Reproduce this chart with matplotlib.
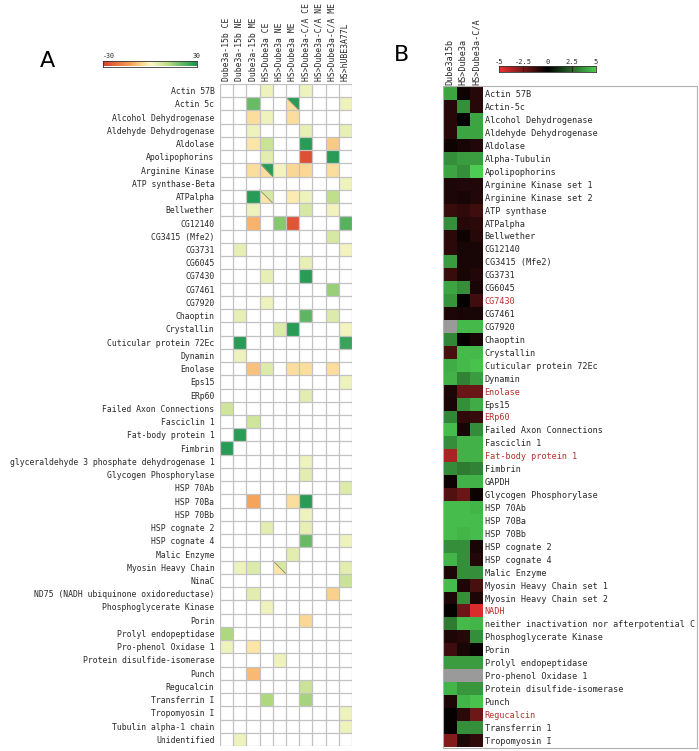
import numpy as np
import matplotlib
matplotlib.use('Agg')
import matplotlib.pyplot as plt
from matplotlib.colors import LinearSegmentedColormap
from matplotlib.patches import Polygon, Rectangle

_ = np.nan

# ---------------- Panel A data ----------------
a_columns = ["Dube3a-15b CE", "Dube3a-15b NE", "Dube3a-15b ME",
             "HS>Dube3a CE", "HS>Dube3a NE", "HS>Dube3a ME",
             "HS>Dube3a-C/A CE", "HS>Dube3a-C/A NE", "HS>Dube3a-C/A ME",
             "HS>hUBE3A77L"]
a_rows = ["Actin 57B", "Actin 5c", "Alcohol Dehydrogenase", "Aldehyde Dehydrogenase",
          "Aldolase", "Apolipophorins", "Arginine Kinase", "ATP synthase-Beta",
          "ATPalpha", "Bellwether", "CG12140", "CG3415 (Mfe2)", "CG3731", "CG6045",
          "CG7430", "CG7461", "CG7920", "Chaoptin", "Crystallin",
          "Cuticular protein 72Ec", "Dynamin", "Enolase", "Eps15", "ERp60",
          "Failed Axon Connections", "Fasciclin 1", "Fat-body protein 1", "Fimbrin",
          "glyceraldehyde 3 phosphate dehydrogenase 1", "Glycogen Phosphorylase",
          "HSP 70Ab", "HSP 70Ba", "HSP 70Bb", "HSP cognate 2", "HSP cognate 4",
          "Malic Enzyme", "Myosin Heavy Chain", "NinaC",
          "ND75 (NADH ubiquinone oxidoreductase)", "Phosphoglycerate Kinase", "Porin",
          "Prolyl endopeptidase", "Pro-phenol Oxidase 1", "Protein disulfide-isomerase",
          "Punch", "Regucalcin", "Transferrin I", "Tropomyosin I",
          "Tubulin alpha-1 chain", "Unidentified"]
a_values = [
    [_, _, _, 3, _, _, 3, _, _, _],
    [_, _, 20, _, _, _, _, _, _, 3],
    [_, _, -4, 3, _, -4, _, _, _, _],
    [_, _, 3, _, _, _, 4, _, _, 4],
    [_, _, -3, 9, _, _, 28, _, -7, _],
    [_, _, _, 5, _, _, -27, _, 28, _],
    [_, _, -4, _, 2, -5, -5, _, -4, _],
    [_, _, _, _, _, _, _, _, _, 3],
    [_, _, 28, _, _, -2, 3, _, 11, _],
    [_, _, 3, _, _, _, 7, _, 2, _],
    [_, _, -10, _, 17, -26, _, _, _, 22],
    [_, _, _, _, _, _, _, _, 7, _],
    [_, 4, _, _, _, _, _, _, _, 2],
    [_, _, _, _, _, _, 4, _, _, _],
    [_, _, _, 4, _, _, 28, _, _, _],
    [_, _, _, _, _, _, _, _, 15, _],
    [_, _, _, 3, _, _, _, _, _, _],
    [_, 4, _, _, _, _, 21, _, 6, _],
    [_, _, _, _, 6, 28, _, _, _, 2],
    [_, 28, _, _, _, _, _, _, _, 26],
    [_, 3, _, _, _, _, _, _, _, _],
    [_, _, -8, 6, _, -4, -4, _, -4, _],
    [_, _, _, _, _, _, _, _, _, 3],
    [_, _, _, _, _, _, 5, _, _, _],
    [8, _, _, _, _, _, _, _, _, _],
    [_, _, 8, _, _, _, _, _, _, _],
    [_, 28, _, _, _, _, _, _, _, _],
    [28, _, _, _, _, _, _, _, _, _],
    [_, _, _, _, _, _, 3, _, _, _],
    [_, _, _, _, _, _, 5, _, _, _],
    [_, _, _, _, _, _, _, _, _, 6],
    [_, _, -12, _, _, -4, 28, _, _, _],
    [_, _, _, _, _, _, 3, _, _, _],
    [_, _, _, 5, _, _, 4, _, _, _],
    [_, _, _, _, _, _, 20, _, _, 3],
    [_, _, _, _, _, 5, _, _, _, _],
    [_, 3, 6, _, _, _, _, _, _, 5],
    [_, _, _, _, _, _, _, _, _, 9],
    [_, _, 5, _, _, _, _, _, -6, _],
    [_, _, _, 3, _, _, _, _, _, _],
    [_, _, _, _, _, _, -5, _, _, _],
    [13, _, _, _, _, _, _, _, _, _],
    [3, _, -3, _, _, _, _, _, _, _],
    [_, _, _, _, 3, _, _, _, _, _],
    [_, _, -9, _, _, _, _, _, _, _],
    [_, _, _, _, _, _, 9, _, _, _],
    [_, _, _, 13, _, _, 14, _, _, _],
    [_, _, _, _, _, _, _, _, _, 3],
    [_, _, _, _, _, _, _, _, _, 3],
    [_, 3, _, _, _, _, _, _, _, _],
]
# cells split diagonally: lower-left and upper-right values
a_split_rows = ["Actin 5c", "Arginine Kinase", "ATPalpha", "Myosin Heavy Chain"]
a_split_cols = ["HS>Dube3a ME", "HS>Dube3a CE", "HS>Dube3a CE", "HS>Dube3a NE"]
a_split_lower = [-4, -4, -3, -3]
a_split_upper = [28, 28, 7, 7]
a_cbar_ticks = [-30, 30]

# ---------------- Panel B data ----------------
b_columns = ["Dube3a15b", "HS>Dube3a", "HS>Dube3a-C/A"]
b_rows = ["Actin 57B", "Actin-5c", "Alcohol Dehydrogenase", "Aldehyde Dehydrogenase",
          "Aldolase", "Alpha-Tubulin", "Apolipophorins", "Arginine Kinase set 1",
          "Arginine Kinase set 2", "ATP synthase", "ATPalpha", "Bellwether", "CG12140",
          "CG3415 (Mfe2)", "CG3731", "CG6045", "CG7430", "CG7461", "CG7920", "Chaoptin",
          "Crystallin", "Cuticular protein 72Ec", "Dynamin", "Enolase", "Eps15", "ERp60",
          "Failed Axon Connections", "Fasciclin 1", "Fat-body protein 1", "Fimbrin",
          "GAPDH", "Glycogen Phosphorylase", "HSP 70Ab", "HSP 70Ba", "HSP 70Bb",
          "HSP cognate 2", "HSP cognate 4", "Malic Enzyme", "Myosin Heavy Chain set 1",
          "Myosin Heavy Chain set 2", "NADH", "neither inactivation nor afterpotential C",
          "Phosphoglycerate Kinase", "Porin", "Prolyl endopeptidase",
          "Pro-phenol Oxidase 1", "Protein disulfide-isomerase", "Punch", "Regucalcin",
          "Transferrin 1", "Tropomyosin I"]
b_values = [
    [4.0, -0.3, -0.8], [-0.8, 3.5, -0.8], [-0.8, 0.0, 4.0], [-0.8, 4.0, 4.0],
    [-0.3, -0.5, -0.7], [3.5, 3.8, 3.8], [4.0, 3.5, 5.0], [-0.6, -0.7, -0.7],
    [-0.6, -0.5, -0.7], [-1.2, -1.0, -1.3], [3.5, -0.8, -0.9], [-0.9, -0.3, -0.8],
    [-0.9, -0.5, -0.5], [3.8, -0.5, -0.5], [-1.2, -0.5, -0.7], [4.0, 3.5, -0.5],
    [3.6, -0.1, -1.3], [-0.6, -0.5, -0.5], [_, 4.5, 4.5], [3.3, -0.1, -0.5],
    [-1.5, 4.5, 4.5], [4.2, 4.5, 4.7], [4.3, 3.2, 3.8], [-0.6, -2.2, -2.2],
    [-0.5, 3.5, 4.2], [3.3, -1.0, -1.1], [4.6, -0.5, 3.4], [3.5, 4.3, 4.3],
    [-3.5, 4.3, 4.3], [3.4, 3.0, 3.2], [-0.3, 4.3, 4.3], [-1.7, -2.2, -0.3],
    [4.6, 4.6, 4.4], [4.6, 4.6, 4.6], [4.6, 4.4, 4.6], [3.5, 3.5, -0.5],
    [4.4, 3.5, -0.7], [-0.6, 3.5, 3.5], [4.6, -0.6, -1.5], [-0.6, 3.5, -0.6],
    [-0.1, -2.2, -4.5], [3.0, 4.5, 4.4], [-0.6, -0.8, 3.5], [-1.3, -0.5, -0.2],
    [3.8, 3.8, 3.8], [_, _, _], [4.4, 3.7, 3.7], [-0.6, 4.4, 4.7],
    [-0.1, -0.9, -2.3], [-0.1, 3.5, 3.5], [-2.7, -0.6, -1.0],
]
b_red_labels = ["CG7430", "Enolase", "ERp60", "Fat-body protein 1", "NADH", "Regucalcin"]
b_cbar_ticks = [-5, -2.5, 0, 2.5, 5]

# ---------------- Figure ----------------
W, H = 699, 751
fig = plt.figure(figsize=(W / 100, H / 100), dpi=100)
MONO = 'DejaVu Sans Mono'
TXT = '#2a2a2a'


def add_ax(x0, y0, x1, y1):
    return fig.add_axes([x0 / W, 1 - y1 / H, (x1 - x0) / W, (y1 - y0) / H])


cmap_a = LinearSegmentedColormap.from_list('a', [
    (0.0, '#d8402c'), (0.3, '#f6a55a'), (0.45, '#fce6a6'), (0.5, '#fdf6c6'),
    (0.55, '#eef2bc'), (0.7, '#b9dc83'), (0.85, '#5fb662'), (1.0, '#1a9454')])
cmap_b = LinearSegmentedColormap.from_list('b', [
    (0.0, '#f03232'), (0.5, '#000000'), (1.0, '#4ccc52')])

# ---- Panel A heatmap ----
A = np.array(a_values, dtype=float)
nr, nc = A.shape
axA = add_ax(220, 84, 352, 746)
axA.set_facecolor('white')
axA.pcolormesh(np.arange(nc + 1), np.arange(nr + 1), np.ma.masked_invalid(A),
               cmap=cmap_a, vmin=a_cbar_ticks[0], vmax=a_cbar_ticks[1])
norm_a = plt.Normalize(a_cbar_ticks[0], a_cbar_ticks[1])
for rname, cname, lo, up in zip(a_split_rows, a_split_cols, a_split_lower, a_split_upper):
    r = a_rows.index(rname)
    c = a_columns.index(cname)
    axA.add_patch(Polygon([(c, r), (c, r + 1), (c + 1, r + 1)], closed=True,
                          facecolor=cmap_a(norm_a(lo)), edgecolor='none'))
    axA.add_patch(Polygon([(c, r), (c + 1, r), (c + 1, r + 1)], closed=True,
                          facecolor=cmap_a(norm_a(up)), edgecolor='none'))
    axA.plot([c, c + 1], [r, r + 1], color='#8a8a6a', lw=0.6)
for i in range(nr + 1):
    axA.axhline(i, color='#c2c2c2', lw=0.9)
for j in range(nc + 1):
    axA.axvline(j, color='#c2c2c2', lw=0.9)
axA.set_xlim(0, nc)
axA.set_ylim(nr, 0)
axA.set_yticks(np.arange(nr) + 0.5)
axA.set_yticklabels(a_rows, fontsize=5.9, family=MONO, color=TXT)
axA.xaxis.tick_top()
axA.set_xticks(np.arange(nc) + 0.5)
axA.set_xticklabels(a_columns, fontsize=5.9, family=MONO, color=TXT, rotation=90)
axA.tick_params(length=0, pad=4)
axA.tick_params(axis='x', pad=2)
for s in axA.spines.values():
    s.set_visible(False)

# ---- Panel A colorbar ----
cbA = add_ax(103, 61, 197, 66.5)
cbA.imshow(np.linspace(0, 1, 256)[None, :], aspect='auto', cmap=cmap_a,
           extent=[a_cbar_ticks[0], a_cbar_ticks[1], 0, 1])
cbA.set_xticks([])
cbA.set_yticks([])
for s in cbA.spines.values():
    s.set_linewidth(0.6)
    s.set_color('#333333')
cbA.text(a_cbar_ticks[0], 1.3, str(a_cbar_ticks[0]), fontsize=4.8, family=MONO,
         color=TXT, ha='left', va='bottom', transform=cbA.get_xaxis_transform())
cbA.text(a_cbar_ticks[1], 1.3, str(a_cbar_ticks[1]), fontsize=4.8, family=MONO,
         color=TXT, ha='center', va='bottom', transform=cbA.get_xaxis_transform())

fig.text(47 / W, 1 - 61 / H, 'A', fontsize=16, family='DejaVu Sans',
         ha='center', va='center', color='black')

# ---- Panel B heatmap ----
B = np.array(b_values, dtype=float)
nbr, nbc = B.shape
axB = add_ax(443.5, 87.3, 482.5, 746.7)
axB.set_facecolor('#9a9a9a')
axB.pcolormesh(np.arange(nbc + 1), np.arange(nbr + 1), np.ma.masked_invalid(B),
               cmap=cmap_b, vmin=b_cbar_ticks[0], vmax=b_cbar_ticks[-1])
axB.set_xlim(0, nbc)
axB.set_ylim(nbr, 0)
axB.yaxis.tick_right()
axB.set_yticks(np.arange(nbr) + 0.5)
axB.set_yticklabels(b_rows, fontsize=6.1, family=MONO, color=TXT)
for lab in axB.get_yticklabels():
    if lab.get_text() in b_red_labels:
        lab.set_color('#b8302c')
axB.xaxis.tick_top()
axB.set_xticks(np.arange(nbc) + 0.5)
axB.set_xticklabels(b_columns, fontsize=6.1, family=MONO, color=TXT, rotation=90)
axB.tick_params(length=0, pad=1.5)
for s in axB.spines.values():
    s.set_visible(False)

# frame around panel B body
fig.add_artist(Rectangle((443 / W, 1 - 748 / H), (697 - 443) / W, (748 - 86) / H,
                         transform=fig.transFigure, fill=False,
                         edgecolor='#b0b0b0', lw=0.8))

# ---- Panel B colorbar ----
cbB = add_ax(499, 66, 596, 72)
cbB.imshow(np.linspace(0, 1, 256)[None, :], aspect='auto', cmap=cmap_b,
           extent=[b_cbar_ticks[0], b_cbar_ticks[-1], 0, 1])
cbB.set_xticks([])
cbB.set_yticks([])
for t in b_cbar_ticks[1:-1]:
    if t != 0:
        cbB.axvline(t, color='#222222', lw=0.8)
for s in cbB.spines.values():
    s.set_linewidth(0.6)
    s.set_color('#333333')
for t in b_cbar_ticks:
    cbB.text(t, 1.25, ('%g' % t), fontsize=5.0, family=MONO, color=TXT,
             ha='center', va='bottom', transform=cbB.get_xaxis_transform())

fig.text(402 / W, 1 - 55 / H, 'B', fontsize=16, family='DejaVu Sans',
         ha='center', va='center', color='black')

fig.savefig('out.png', dpi=100)
